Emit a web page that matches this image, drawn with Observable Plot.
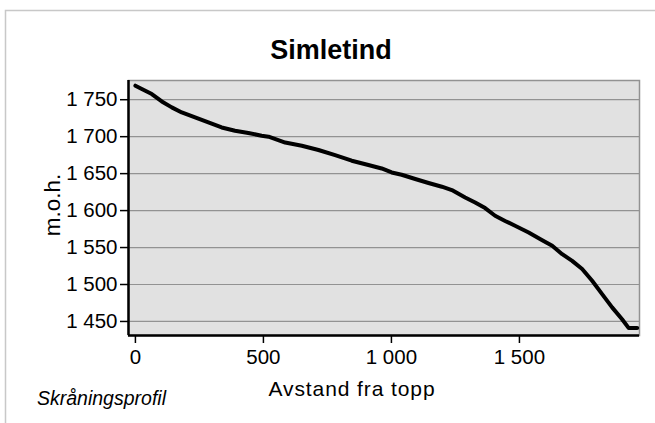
<!DOCTYPE html>
<html>
<head>
<meta charset="utf-8">
<script src="https://cdn.jsdelivr.net/npm/d3@7"></script>
<script src="https://cdn.jsdelivr.net/npm/@observablehq/plot@0.6"></script>
<style>
  html, body { margin: 0; padding: 0; background: #fff; }
  #chart svg { display: block; font-family: "Liberation Sans", Arial, sans-serif; }
</style>
</head>
<body>
<div id="chart"></div>
<script>
// Data
const distance = [0, 25, 64, 103, 142, 181, 233, 285, 337, 389, 441, 493, 520, 585, 650, 715, 780, 845, 910, 962, 1001, 1040, 1093, 1145, 1197, 1236, 1288, 1327, 1366, 1405, 1444, 1483, 1536, 1589, 1628, 1667, 1706, 1745, 1784, 1823, 1862, 1901, 1927, 1960];
const elevation = [1769, 1764.5, 1757.7, 1747.7, 1739.6, 1732.8, 1726, 1719.3, 1712.5, 1708, 1705, 1701.3, 1700, 1692, 1687.7, 1682, 1675, 1667.5, 1661.6, 1657, 1651.6, 1648.5, 1642.7, 1637.3, 1632.3, 1627.8, 1617.8, 1611, 1603.4, 1593, 1586, 1579.5, 1570.4, 1560, 1552.4, 1541, 1532, 1521, 1505, 1487, 1469, 1453, 1441, 1441];
const xTicks = [0, 500, 1000, 1500];
const yTicks = [1450, 1500, 1550, 1600, 1650, 1700, 1750];
const titleText = "Simletind";
const xLabel = "Avstand fra topp";
const yLabel = "m.o.h.";
const captionText = "Skråningsprofil";

const data = distance.map((d, i) => ({x: d, y: elevation[i]}));
const fmt = v => {
  const s = String(v);
  return s.length > 3 ? s.slice(0, s.length - 3) + " " + s.slice(-3) : s;
};

const xDomain = [-27, 1969];
const yDomain = [1431, 1776];

const plot = Plot.plot({
  width: 655,
  height: 423,
  marginLeft: 128,
  marginRight: 16,
  marginTop: 80,
  marginBottom: 88,
  style: {fontFamily: '"Liberation Sans", Arial, sans-serif', fontSize: "20px", color: "#000", background: "transparent"},
  x: {domain: xDomain},
  y: {domain: yDomain},
  marks: [
    Plot.frame({fill: "#e1e1e1", stroke: null}),
    Plot.gridY(yTicks, {stroke: "#929292", strokeOpacity: 1, strokeWidth: 1.2}),
    Plot.frame({stroke: "#929292", strokeWidth: 1.5, fill: null}),
    Plot.axisY(yTicks, {tickFormat: fmt, tickSize: 8, tickPadding: 3, fontSize: 20.5, stroke: "#000", strokeWidth: 1.5, label: null}),
    Plot.axisX(xTicks, {tickFormat: fmt, tickSize: 8, tickPadding: 6, fontSize: 20.5, stroke: "#000", strokeWidth: 1.5, label: null}),
    Plot.ruleX([xDomain[0]], {stroke: "#000", strokeWidth: 2.5}),
    Plot.ruleY([yDomain[0]], {stroke: "#000", strokeWidth: 2.5}),
    Plot.line(data, {x: "x", y: "y", stroke: "#000", strokeWidth: 4, strokeLinejoin: "round", strokeLinecap: "round"})
  ]
});

const svg = d3.select(plot);
// outer chart border
svg.insert("rect", ":first-child")
  .attr("x", 5.5).attr("y", 10.5).attr("width", 670).attr("height", 430)
  .attr("fill", "#fff").attr("stroke", "#c8c8c8").attr("stroke-width", 1.5);

svg.append("text")
  .attr("x", 331).attr("y", 59)
  .attr("text-anchor", "middle")
  .attr("font-size", 27).attr("font-weight", "bold")
  .attr("fill", "#000")
  .text(titleText);

svg.append("text")
  .attr("transform", "translate(60,205) rotate(-90)")
  .attr("text-anchor", "middle")
  .attr("font-size", 22.5)
  .attr("fill", "#000")
  .text(yLabel);

svg.append("text")
  .attr("x", 352).attr("y", 396)
  .attr("text-anchor", "middle")
  .attr("font-size", 21)
  .attr("letter-spacing", "0.9px")
  .attr("fill", "#000")
  .text(xLabel);

svg.append("text")
  .attr("x", 37).attr("y", 405)
  .attr("text-anchor", "start")
  .attr("font-size", 19.5)
  .attr("font-style", "italic")
  .attr("fill", "#000")
  .text(captionText);

document.getElementById("chart").appendChild(plot);
</script>
</body>
</html>
